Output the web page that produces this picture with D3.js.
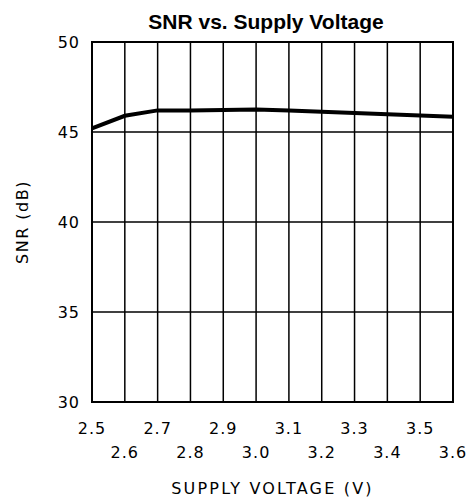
<!DOCTYPE html>
<html>
<head>
<meta charset="utf-8">
<script src="https://cdn.jsdelivr.net/npm/d3@7"></script>
<style>
  body { margin: 0; background: #fff; }
  text { fill: #000; }
</style>
</head>
<body>
<svg id="chart" width="469" height="502"></svg>
<script>
"use strict";

var voltages = [2.5, 2.6, 2.7, 2.8, 2.9, 3.0, 3.1, 3.2, 3.3, 3.4, 3.5, 3.6];
var snr = [45.2, 45.9, 46.2, 46.2, 46.22, 46.25, 46.2, 46.12, 46.05, 45.98, 45.92, 45.85];
var yTicks = [30, 35, 40, 45, 50];
var xTicks = voltages;

var margin = { left: 92, right: 16, top: 42, bottom: 100 };
var width = 469 - margin.left - margin.right;
var height = 502 - margin.top - margin.bottom;
var labelFont = '"DejaVu Sans", sans-serif';

var svg = d3.select('#chart');
var g = svg.append('g')
    .attr('transform', 'translate(' + margin.left + ',' + margin.top + ')');

var x = d3.scaleLinear().domain([2.5, 3.6]).range([0, width]);
var y = d3.scaleLinear().domain([30, 50]).range([height, 0]);

// grid
g.selectAll('line.vgrid')
  .data(xTicks)
  .enter().append('line')
  .attr('class', 'vgrid')
  .attr('x1', function (d) { return x(d); })
  .attr('x2', function (d) { return x(d); })
  .attr('y1', 0).attr('y2', height)
  .attr('stroke', '#000').attr('stroke-width', 1.5);

g.selectAll('line.hgrid')
  .data(yTicks)
  .enter().append('line')
  .attr('class', 'hgrid')
  .attr('x1', 0).attr('x2', width)
  .attr('y1', function (d) { return y(d); })
  .attr('y2', function (d) { return y(d); })
  .attr('stroke', '#000').attr('stroke-width', 1.5);

g.append('rect')
  .attr('width', width).attr('height', height)
  .attr('fill', 'none').attr('stroke', '#000').attr('stroke-width', 2);

// y labels
g.selectAll('text.ylab')
  .data(yTicks)
  .enter().append('text')
  .attr('class', 'ylab')
  .attr('x', -12)
  .attr('y', function (d) { return y(d); })
  .attr('dy', '0.35em')
  .attr('text-anchor', 'end')
  .style('font-family', labelFont)
  .style('font-size', '16px')
  .style('letter-spacing', '1px')
  .text(function (d) { return d; });

// x labels, staggered
g.selectAll('text.xlab')
  .data(xTicks)
  .enter().append('text')
  .attr('class', 'xlab')
  .attr('x', function (d) { return x(d); })
  .attr('y', function (d, i) { return height + (i % 2 === 0 ? 32 : 56); })
  .attr('text-anchor', 'middle')
  .style('font-family', labelFont)
  .style('font-size', '16px')
  .style('letter-spacing', '1px')
  .text(function (d) { return d.toFixed(1); });

// curve
var line = d3.line()
  .x(function (d, i) { return x(voltages[i]); })
  .y(function (d) { return y(d); });

g.append('path')
  .datum(snr)
  .attr('d', line)
  .attr('fill', 'none')
  .attr('stroke', '#000')
  .attr('stroke-width', 4);

// titles
svg.append('text')
  .attr('x', 266)
  .attr('y', 29)
  .attr('text-anchor', 'middle')
  .style('font-family', '"Liberation Sans", Arial, sans-serif')
  .style('font-weight', 'bold')
  .style('font-size', '21px')
  .text('SNR vs. Supply Voltage');

svg.append('text')
  .attr('x', margin.left + width / 2)
  .attr('y', 494)
  .attr('text-anchor', 'middle')
  .style('font-family', labelFont)
  .style('font-size', '16px')
  .style('letter-spacing', '2.2px')
  .text('SUPPLY VOLTAGE (V)');

svg.append('text')
  .attr('transform', 'translate(28,' + (margin.top + height / 2) + ') rotate(-90)')
  .attr('text-anchor', 'middle')
  .style('font-family', labelFont)
  .style('font-size', '16px')
  .style('letter-spacing', '1.5px')
  .text('SNR (dB)');
</script>
</body>
</html>
